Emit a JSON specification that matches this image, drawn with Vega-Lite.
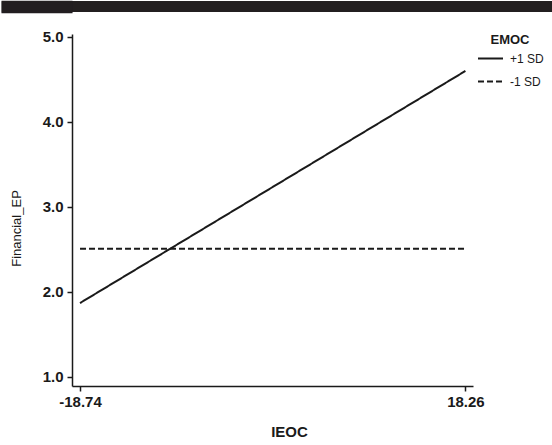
{
  "$schema": "https://vega.github.io/schema/vega-lite/v6.json",
  "padding": 0,
  "spacing": 16,
  "background": "white",
  "config": {
    "font": "Liberation Sans",
    "axis": {"grid": false, "domainColor": "#1a1a1a", "domainWidth": 1.5, "tickColor": "#1a1a1a", "tickWidth": 1.5, "tickSize": 5, "labelColor": "#1a1a1a", "titleColor": "#1a1a1a"},
    "legend": {"labelColor": "#1a1a1a", "titleColor": "#1a1a1a"}
  },
  "resolve": {"scale": {"strokeDash": "independent"}, "legend": {"strokeDash": "independent"}},
  "vconcat": [
    {
      "width": 480,
      "height": 11,
      "data": {"values": []},
      "view": {"fill": "#231f20", "stroke": null},
      "mark": "point",
      "encoding": {
        "y": {
          "field": "band", "type": "quantitative",
          "scale": {"domain": [0, 1], "nice": false, "zero": false},
          "axis": {"values": [0, 0.0909, 0.1818, 0.2727, 0.3636, 0.4545, 0.5455, 0.6364, 0.7273, 0.8182, 0.9091, 1], "labels": false, "domain": false, "title": null, "tickSize": 71, "tickWidth": 1.5, "tickColor": "#231f20", "tickOffset": 0}
        }
      }
    },
    {
      "width": 401,
      "height": 352,
      "view": {"stroke": null},
      "data": {
        "values": [
          {"IEOC": -18.74, "Financial_EP": 1.87, "EMOC": "+1 SD"},
          {"IEOC": 18.26, "Financial_EP": 4.6, "EMOC": "+1 SD"},
          {"IEOC": -18.74, "Financial_EP": 2.51, "EMOC": "-1 SD"},
          {"IEOC": 18.26, "Financial_EP": 2.51, "EMOC": "-1 SD"}
        ]
      },
      "mark": {"type": "line", "color": "#1a1a1a", "strokeWidth": 2},
      "encoding": {
        "x": {
          "field": "IEOC", "type": "quantitative",
          "scale": {"domain": [-19.51, 18.99], "nice": false, "zero": false},
          "axis": {
            "values": [-18.74, 18.26],
            "labelExpr": "replace(format(datum.value, '.2f'), '\u2212', '-')",
            "labelFontSize": 15, "labelFontWeight": "bold",
            "labelPadding": 3, "labelFlush": false,
            "title": "IEOC", "titleFontSize": 15, "titleFontWeight": "bold", "titlePadding": 15, "titleX": 217
          }
        },
        "y": {
          "field": "Financial_EP", "type": "quantitative",
          "scale": {"domain": [0.894, 5.035], "nice": false, "zero": false},
          "axis": {
            "values": [1, 2, 3, 4, 5],
            "format": ".1f",
            "labelFontSize": 15, "labelFontWeight": "bold", "labelPadding": 4,
            "title": "Financial_EP", "titleFontSize": 13, "titleFontWeight": "normal", "titlePadding": 19, "titleY": 194
          }
        },
        "strokeDash": {
          "field": "EMOC", "type": "nominal",
          "scale": {"domain": ["+1 SD", "-1 SD"], "range": [[1, 0], [6, 3]]},
          "legend": {
            "title": "EMOC", "titleFontSize": 13, "titleFontWeight": "bold", "titleAnchor": "middle", "titlePadding": -2,
            "labelFontSize": 12, "labelOffset": 6,
            "symbolType": "stroke", "symbolSize": 625, "symbolStrokeWidth": 2, "symbolStrokeColor": "#1a1a1a",
            "rowPadding": 3, "offset": 4, "padding": 0
          }
        }
      }
    }
  ]
}
